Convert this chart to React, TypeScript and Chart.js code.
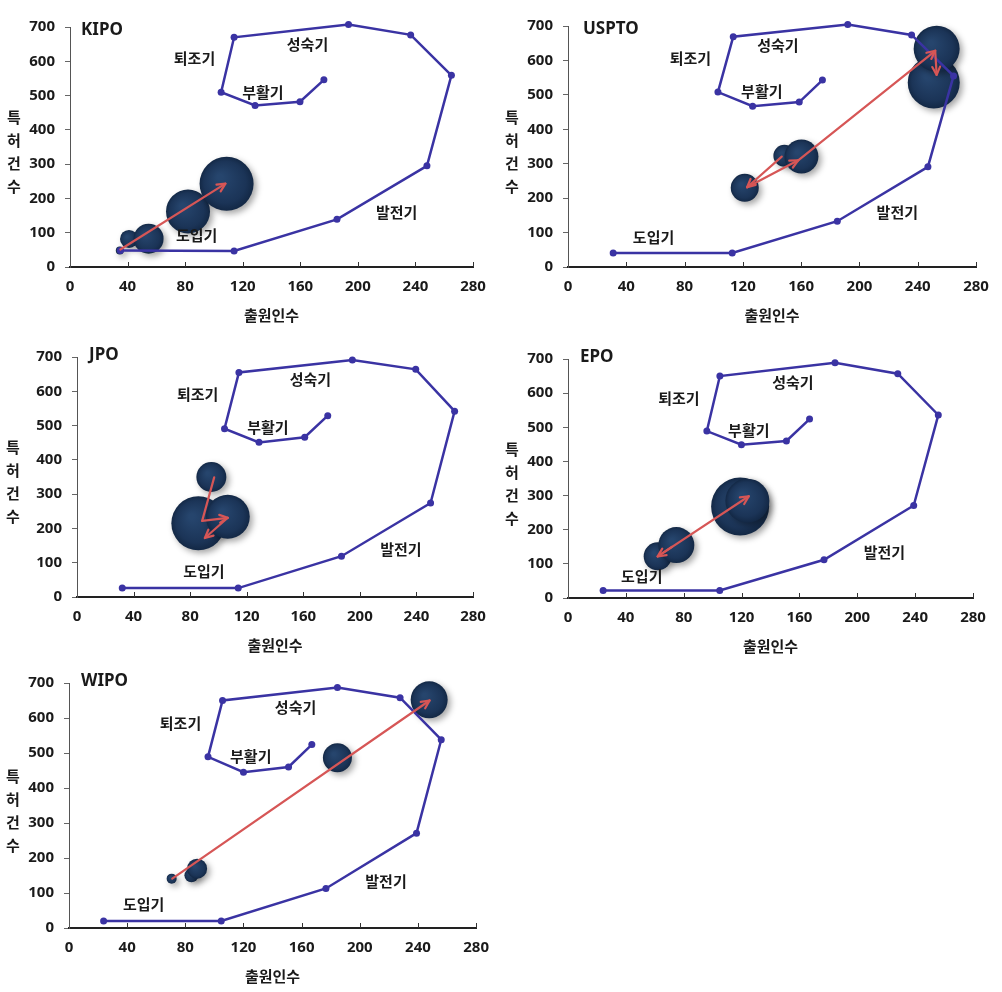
import React, { useEffect, useRef } from 'react';
import { Chart, registerables } from 'chart.js';
Chart.register(...registerables);

// ---------- shared labels ----------
const X_TICKS = [0, 40, 80, 120, 160, 200, 240, 280];
const Y_TICKS = [0, 100, 200, 300, 400, 500, 600, 700];
const STAGES = ['도입기', '발전기', '성숙기', '퇴조기', '부활기'];
const Y_TITLE = ['특', '허', '건', '수'];
const X_TITLE = '출원인수';

// ---------- KIPO ----------
const KIPO_LINE_X = [35, 114, 185.5, 248, 265, 236.7, 193.5, 114, 105, 128.6, 159.8, 176.4];
const KIPO_LINE_Y = [48, 47, 139, 295, 559, 677, 707, 670, 510, 471, 482, 546];
const KIPO_BUB_X = [34.6, 41, 54.6, 82, 108.8];
const KIPO_BUB_Y = [48.4, 81.7, 82.5, 162, 242.7];
const KIPO_BUB_R = [4, 9, 15, 22, 27];
const KIPO_ARROW_X = [35, 108];
const KIPO_ARROW_Y = [51, 243];
const KIPO_ARROW_HEAD = [false, true];
const KIPO_STAGE_X = [88, 227, 165, 86.5, 134];
const KIPO_STAGE_Y = [92, 161, 650, 608, 511];

// ---------- USPTO ----------
const USPTO_LINE_X = [31, 112.7, 184.8, 247, 264.6, 235.8, 192, 113.4, 102.9, 126.7, 158.7, 174.6];
const USPTO_LINE_Y = [41, 41, 133, 291, 555, 674, 704, 669, 508, 467, 479, 543];
const USPTO_BUB_X = [121.3, 148.5, 160.2, 251, 253];
const USPTO_BUB_Y = [230, 323, 321, 536, 634];
const USPTO_BUB_R = [14, 11, 17, 26, 23];
const USPTO_ARROW_X = [146.7, 122.9, 158, 252, 253];
const USPTO_ARROW_Y = [320.7, 231.5, 310, 628, 558];
const USPTO_ARROW_HEAD = [false, true, true, true, true];
const USPTO_STAGE_X = [58.7, 226, 144, 84, 133];
const USPTO_STAGE_Y = [85, 159, 645, 606, 510];

// ---------- JPO ----------
const JPO_LINE_X = [32, 114, 187, 250, 267, 239.5, 194.7, 114.5, 104.3, 128.7, 161, 177.3];
const JPO_LINE_Y = [26, 26, 119, 274, 542, 664, 691, 655, 491, 451, 466, 529];
const JPO_BUB_X = [95, 85.8, 106.6];
const JPO_BUB_Y = [350, 215, 234];
const JPO_BUB_R = [15, 27, 22];
const JPO_ARROW_X = [97, 88.5, 106.6, 90.4];
const JPO_ARROW_Y = [349, 222, 231, 172];
const JPO_ARROW_HEAD = [false, false, true, true];
const JPO_STAGE_X = [89.7, 229, 165, 85.3, 135];
const JPO_STAGE_Y = [75, 140, 636, 590, 495];

// ---------- EPO ----------
const EPO_LINE_X = [24.3, 104.9, 177, 239, 256, 228, 184.6, 105, 96, 119.9, 151, 167];
const EPO_LINE_Y = [22, 22, 112, 271, 536, 657, 689, 650, 489, 449, 460, 524];
const EPO_BUB_X = [62, 74.9, 119, 124];
const EPO_BUB_Y = [122, 155, 268, 285];
const EPO_BUB_R = [14, 18, 29, 22];
const EPO_ARROW_X = [72, 62, 125];
const EPO_ARROW_Y = [150, 122, 298];
const EPO_ARROW_HEAD = [false, true, true];
const EPO_STAGE_X = [51, 218.7, 155.5, 76.7, 125];
const EPO_STAGE_Y = [65, 134, 631, 586, 490];

// ---------- WIPO ----------
const WIPO_LINE_X = [23.8, 104.7, 176.7, 239, 256, 227.7, 184.6, 105.6, 95.6, 120, 151, 167];
const WIPO_LINE_Y = [20, 20, 113, 271, 538, 658, 687, 650, 489, 445, 460, 524];
const WIPO_BUB_X = [70.6, 84.2, 88.1, 184.6, 247.7];
const WIPO_BUB_Y = [141, 150.5, 169.5, 486.7, 652];
const WIPO_BUB_R = [5, 7, 10, 14.5, 18.5];
const WIPO_ARROW_X = [71, 248];
const WIPO_ARROW_Y = [141, 650];
const WIPO_ARROW_HEAD = [false, true];
const WIPO_STAGE_X = [51.3, 218, 155.8, 76.7, 125];
const WIPO_STAGE_Y = [67, 134, 631, 586, 490];

// ---------- styles ----------
const LINE_COLOR = '#3a33a3';
const ARROW_COLOR = '#d65656';
const TEXT_COLOR = '#1a1a1a';
const BUBBLE_COLOR = '#1c3558';
const NUM_FONT = '"Noto Sans", "Noto Sans CJK KR", sans-serif';
const KO_FONT = '"Noto Sans CJK KR", "Noto Sans", sans-serif';

type Geom = {
  left: number; top: number; w: number; h: number;
  l: number; r: number; t: number; b: number;
  tdx: number; tdy: number; ytx: number;
};

const PANELS = [
  { name: 'KIPO', lx: KIPO_LINE_X, ly: KIPO_LINE_Y, bx: KIPO_BUB_X, by: KIPO_BUB_Y, br: KIPO_BUB_R, ax: KIPO_ARROW_X, ay: KIPO_ARROW_Y, ah: KIPO_ARROW_HEAD, sx: KIPO_STAGE_X, sy: KIPO_STAGE_Y,
    g: { left: 0, top: 0, w: 500, h: 330, l: 70, r: 479, t: 21, b: 267, tdx: 11, tdy: 3, ytx: 14 } as Geom },
  { name: 'USPTO', lx: USPTO_LINE_X, ly: USPTO_LINE_Y, bx: USPTO_BUB_X, by: USPTO_BUB_Y, br: USPTO_BUB_R, ax: USPTO_ARROW_X, ay: USPTO_ARROW_Y, ah: USPTO_ARROW_HEAD, sx: USPTO_STAGE_X, sy: USPTO_STAGE_Y,
    g: { left: 500, top: 0, w: 502, h: 330, l: 68, r: 479, t: 21, b: 267, tdx: 15, tdy: 3, ytx: 12 } as Geom },
  { name: 'JPO', lx: JPO_LINE_X, ly: JPO_LINE_Y, bx: JPO_BUB_X, by: JPO_BUB_Y, br: JPO_BUB_R, ax: JPO_ARROW_X, ay: JPO_ARROW_Y, ah: JPO_ARROW_HEAD, sx: JPO_STAGE_X, sy: JPO_STAGE_Y,
    g: { left: 0, top: 330, w: 500, h: 330, l: 77, r: 479, t: 23, b: 267, tdx: 12, tdy: -2, ytx: 13 } as Geom },
  { name: 'EPO', lx: EPO_LINE_X, ly: EPO_LINE_Y, bx: EPO_BUB_X, by: EPO_BUB_Y, br: EPO_BUB_R, ax: EPO_ARROW_X, ay: EPO_ARROW_Y, ah: EPO_ARROW_HEAD, sx: EPO_STAGE_X, sy: EPO_STAGE_Y,
    g: { left: 500, top: 330, w: 502, h: 330, l: 68, r: 479, t: 23, b: 268, tdx: 12, tdy: -2, ytx: 12 } as Geom },
  { name: 'WIPO', lx: WIPO_LINE_X, ly: WIPO_LINE_Y, bx: WIPO_BUB_X, by: WIPO_BUB_Y, br: WIPO_BUB_R, ax: WIPO_ARROW_X, ay: WIPO_ARROW_Y, ah: WIPO_ARROW_HEAD, sx: WIPO_STAGE_X, sy: WIPO_STAGE_Y,
    g: { left: 0, top: 660, w: 500, h: 332, l: 69, r: 479, t: 23, b: 268, tdx: 12, tdy: -2, ytx: 13 } as Geom },
];

const shadowPlugin = {
  id: 'bubbleShadow',
  beforeDatasetDraw(chart: any, args: any) {
    if (args.meta.type === 'bubble') {
      const ctx = chart.ctx;
      ctx.save();
      ctx.shadowColor = 'rgba(0,0,0,0.35)';
      ctx.shadowBlur = 6;
      ctx.shadowOffsetX = 3;
      ctx.shadowOffsetY = 3;
    }
  },
  afterDatasetDraw(chart: any, args: any) {
    if (args.meta.type === 'bubble') chart.ctx.restore();
  },
};

function makeDecor(p: typeof PANELS[number]) {
  return {
    id: 'decor',
    afterDraw(chart: any) {
      const ctx = chart.ctx;
      const xs = chart.scales.x;
      const ys = chart.scales.y;
      const ca = chart.chartArea;
      ctx.save();
      // inside x ticks
      ctx.strokeStyle = '#333';
      ctx.lineWidth = 1;
      X_TICKS.forEach((v) => {
        if (v === 0) return;
        const px = Math.round(xs.getPixelForValue(v)) + 0.5;
        ctx.beginPath();
        ctx.moveTo(px, ca.bottom);
        ctx.lineTo(px, ca.bottom - 5);
        ctx.stroke();
      });
      // arrows
      ctx.strokeStyle = ARROW_COLOR;
      ctx.lineWidth = 2.2;
      ctx.lineCap = 'round';
      ctx.lineJoin = 'round';
      for (let i = 1; i < p.ax.length; i++) {
        const x1 = xs.getPixelForValue(p.ax[i - 1]);
        const y1 = ys.getPixelForValue(p.ay[i - 1]);
        const x2 = xs.getPixelForValue(p.ax[i]);
        const y2 = ys.getPixelForValue(p.ay[i]);
        ctx.beginPath();
        ctx.moveTo(x1, y1);
        ctx.lineTo(x2, y2);
        ctx.stroke();
        if (p.ah[i]) {
          const ang = Math.atan2(y2 - y1, x2 - x1);
          const len = 9;
          const spread = 0.45;
          ctx.beginPath();
          ctx.moveTo(x2 - len * Math.cos(ang - spread), y2 - len * Math.sin(ang - spread));
          ctx.lineTo(x2, y2);
          ctx.lineTo(x2 - len * Math.cos(ang + spread), y2 - len * Math.sin(ang + spread));
          ctx.stroke();
        }
      }
      // stage labels
      ctx.fillStyle = TEXT_COLOR;
      ctx.font = `bold 15px ${KO_FONT}`;
      ctx.textAlign = 'center';
      ctx.textBaseline = 'middle';
      STAGES.forEach((s, i) => {
        ctx.fillText(s, xs.getPixelForValue(p.sx[i]), ys.getPixelForValue(p.sy[i]));
      });
      // panel title
      ctx.font = `bold 17px ${NUM_FONT}`;
      ctx.textAlign = 'left';
      ctx.fillText(p.name, ca.left + p.g.tdx, ca.top + p.g.tdy);
      // x title
      ctx.font = `bold 15px ${KO_FONT}`;
      ctx.textAlign = 'center';
      ctx.fillText(X_TITLE, (ca.left + ca.right) / 2, ca.bottom + 48);
      // y title (stacked)
      const mid = (ca.top + ca.bottom) / 2 + 5;
      Y_TITLE.forEach((c, i) => {
        ctx.fillText(c, p.g.ytx, mid + (i - 1.5) * 23);
      });
      ctx.restore();
    },
  };
}

function bubbleFill(c: any) {
  const raw = c.raw;
  const chart = c.chart;
  if (!raw || !chart.scales || !chart.scales.x || !chart.scales.y) return BUBBLE_COLOR;
  const x = chart.scales.x.getPixelForValue(raw.x);
  const y = chart.scales.y.getPixelForValue(raw.y);
  const r = Math.max(raw.r, 1);
  if (!isFinite(x) || !isFinite(y)) return BUBBLE_COLOR;
  const g = chart.ctx.createRadialGradient(x - r * 0.25, y - r * 0.25, r * 0.1, x, y, r);
  g.addColorStop(0, '#26456d');
  g.addColorStop(0.75, '#1b3457');
  g.addColorStop(1, '#132845');
  return g;
}

function PanelChart({ p }: { p: typeof PANELS[number] }) {
  const ref = useRef<HTMLCanvasElement>(null);
  useEffect(() => {
    const canvas = ref.current!;
    const g = p.g;
    const lineData = p.lx.map((x, i) => ({ x, y: p.ly[i] }));
    const bubData = p.bx.map((x, i) => ({ x, y: p.by[i], r: p.br[i] }));
    const tickFont = { family: NUM_FONT, size: 15, weight: 'bold' as const };
    const chart = new Chart(canvas, {
      type: 'bubble',
      data: {
        datasets: [
          {
            type: 'line',
            data: lineData as any,
            borderColor: LINE_COLOR,
            backgroundColor: LINE_COLOR,
            borderWidth: 2.5,
            pointRadius: 3.5,
            pointBackgroundColor: LINE_COLOR,
            pointBorderColor: LINE_COLOR,
            pointBorderWidth: 0,
            tension: 0,
            fill: false,
            clip: false,
            order: 1,
          } as any,
          {
            type: 'bubble',
            data: bubData,
            backgroundColor: bubbleFill as any,
            borderWidth: 0,
            clip: false,
            order: 2,
          } as any,
        ],
      },
      options: {
        responsive: false,
        animation: false,
        events: [],
        layout: { padding: { left: 0, top: g.t, right: g.w - g.r, bottom: 0 } },
        plugins: { legend: { display: false }, tooltip: { enabled: false } },
        scales: {
          x: {
            type: 'linear',
            min: 0,
            max: 280,
            afterBuildTicks: (s: any) => { s.ticks = X_TICKS.map((v) => ({ value: v })); },
            afterFit: (s: any) => { s.height = g.h - g.b; },
            grid: { display: false, drawTicks: false, drawOnChartArea: false },
            border: { display: true, color: '#222', width: 2 },
            ticks: { font: tickFont, color: TEXT_COLOR, padding: 11, maxRotation: 0, autoSkip: false },
          },
          y: {
            type: 'linear',
            min: 0,
            max: 700,
            afterBuildTicks: (s: any) => { s.ticks = Y_TICKS.map((v) => ({ value: v })); },
            afterFit: (s: any) => { s.width = g.l; },
            grid: { display: true, drawOnChartArea: false, drawTicks: true, tickLength: 5, color: '#666' },
            border: { display: true, color: '#555', width: 1 },
            ticks: { font: tickFont, color: TEXT_COLOR, padding: 10, autoSkip: false },
          },
        },
      } as any,
      plugins: [shadowPlugin, makeDecor(p)],
    });
    return () => chart.destroy();
  }, []);
  const g = p.g;
  return (
    <canvas
      ref={ref}
      width={g.w}
      height={g.h}
      style={{ position: 'absolute', left: g.left, top: g.top, width: g.w, height: g.h }}
    />
  );
}

export default function App() {
  return (
    <div style={{ position: 'absolute', left: 0, top: 0, width: 1002, height: 992, background: '#fff' }}>
      {PANELS.map((p) => (
        <PanelChart key={p.name} p={p} />
      ))}
    </div>
  );
}
